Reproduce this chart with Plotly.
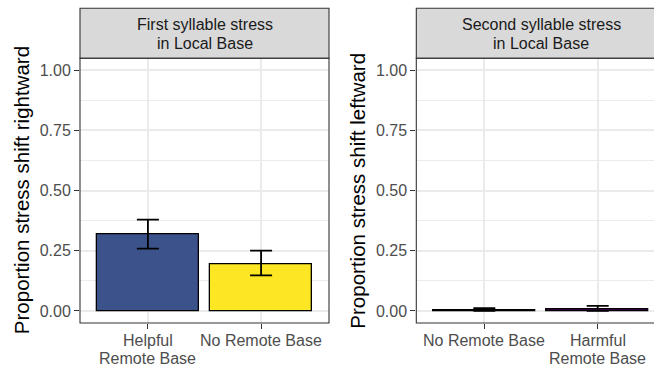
import plotly.graph_objects as go

W, H = 654, 366

# Panel 1: first syllable stress in local base
cats_first = ["Helpful Remote Base", "No Remote Base"]
labels_first = [["Helpful", "Remote Base"], ["No Remote Base"]]
mean_first = [0.318, 0.196]
lo_first = [0.259, 0.148]
hi_first = [0.380, 0.251]
fill_first = ["#3B528B", "#FDE725"]

# Panel 2: second syllable stress in local base
cats_second = ["No Remote Base", "Harmful Remote Base"]
labels_second = [["No Remote Base"], ["Harmful", "Remote Base"]]
mean_second = [0.001, 0.005]
lo_second = [0.0, 0.0]
hi_second = [0.012, 0.021]
fill_second = ["#FDE725", "#440154"]

y_ticks = [0.0, 0.25, 0.5, 0.75, 1.0]
y_ticktext = ["0.00", "0.25", "0.50", "0.75", "1.00"]

FONT = "Liberation Sans, Arial, sans-serif"
GRID = "#EBEBEB"
DARK = "#333333"
TICKCOL = "#4D4D4D"


def px_x(v):
    return v / W


def px_y(v):
    return 1 - v / H


# panel geometry in pixels
P1_L, P1_R = 80, 329
P2_L, P2_R = 416.3, 665.7
P_TOP, P_BOT = 58.3, 323
S_TOP = 8.3
UNIT = (P1_R - P1_L) / 2.2

fig = go.Figure()


def add_panel(cats, mean, lo, hi, fills, xa, ya):
    fig.add_trace(go.Bar(
        x=cats, y=mean, width=0.9,
        marker=dict(color=fills, line=dict(color="black", width=1.3)),
        error_y=dict(type="data", symmetric=False,
                     array=[h - m for h, m in zip(hi, mean)],
                     arrayminus=[m - l for m, l in zip(mean, lo)],
                     color="black", thickness=1.8, width=11),
        xaxis=xa, yaxis=ya, showlegend=False,
    ))


add_panel(cats_first, mean_first, lo_first, hi_first, fill_first, "x", "y")
add_panel(cats_second, mean_second, lo_second, hi_second, fill_second, "x2", "y2")

xcommon = dict(type="category", ticks="outside", ticklen=5, tickwidth=1.1,
               tickcolor=DARK, showline=False, zeroline=False,
               showgrid=True, gridcolor=GRID, gridwidth=1.5, automargin=False,
               showticklabels=False)
ycommon = dict(range=[-0.05, 1.05], tickvals=y_ticks, ticktext=y_ticktext,
               ticks="outside", ticklen=5, tickwidth=1.1, tickcolor=DARK,
               showline=False, zeroline=False, showgrid=True,
               gridcolor=GRID, gridwidth=1.5, automargin=False,
               minor=dict(tickvals=[0.125, 0.375, 0.625, 0.875],
                          showgrid=True, gridcolor=GRID, gridwidth=0.8,
                          ticks=""),
               tickfont=dict(family=FONT, size=16, color=TICKCOL))

x2_right = 1.6 - (P2_R - W) / UNIT

fig.update_layout(
    width=W, height=H, margin=dict(l=0, r=0, t=0, b=0, autoexpand=False),
    paper_bgcolor="white", plot_bgcolor="white",
    xaxis=dict(domain=[px_x(P1_L), px_x(P1_R)], range=[-0.6, 1.6],
               anchor="y", **xcommon),
    yaxis=dict(domain=[px_y(P_BOT), px_y(P_TOP)], anchor="x", **ycommon),
    xaxis2=dict(domain=[px_x(P2_L), 1.0], range=[-0.6, x2_right],
                anchor="y2", **xcommon),
    yaxis2=dict(domain=[px_y(P_BOT), px_y(P_TOP)], anchor="x2", **ycommon),
    bargap=0,
)

shapes = []
for L, R in [(P1_L, P1_R), (P2_L, P2_R)]:
    # strip
    shapes.append(dict(type="rect", xref="paper", yref="paper",
                       x0=px_x(L), x1=px_x(R), y0=px_y(P_TOP), y1=px_y(S_TOP),
                       fillcolor="#D9D9D9", line=dict(color=DARK, width=1.1),
                       layer="above"))
    # panel border
    shapes.append(dict(type="rect", xref="paper", yref="paper",
                       x0=px_x(L), x1=px_x(R), y0=px_y(P_BOT), y1=px_y(P_TOP),
                       fillcolor="rgba(0,0,0,0)", line=dict(color=DARK, width=1.1),
                       layer="above"))
fig.update_layout(shapes=shapes)

annotations = []
strip_lines = [
    ((P1_L + P1_R) / 2, ["First syllable stress", "in Local Base"]),
    ((P2_L + P2_R) / 2, ["Second syllable stress", "in Local Base"]),
]
for cx, lines in strip_lines:
    for i, txt in enumerate(lines):
        annotations.append(dict(
            x=px_x(cx), y=px_y(25 + 18.3 * i), xref="paper", yref="paper",
            text=txt, showarrow=False, xanchor="center", yanchor="middle",
            font=dict(family=FONT, size=16, color="#1A1A1A")))

# category labels under each panel, one annotation per text line
for xref, cats, labels in [("x", cats_first, labels_first),
                           ("x2", cats_second, labels_second)]:
    for cat, lines in zip(cats, labels):
        for i, txt in enumerate(lines):
            annotations.append(dict(
                x=cat, xref=xref, y=px_y(340 + 18 * i), yref="paper",
                text=txt, showarrow=False, xanchor="center", yanchor="middle",
                font=dict(family=FONT, size=16, color=TICKCOL)))

for cx, txt in [(21.5, "Proportion stress shift rightward"),
                (358, "Proportion stress shift leftward")]:
    annotations.append(dict(
        x=px_x(cx), y=px_y((P_TOP + P_BOT) / 2), xref="paper", yref="paper",
        text=txt, showarrow=False, textangle=-90,
        xanchor="center", yanchor="middle",
        font=dict(family=FONT, size=20.5, color="black")))
fig.update_layout(annotations=annotations)

fig.write_html("out.html")
